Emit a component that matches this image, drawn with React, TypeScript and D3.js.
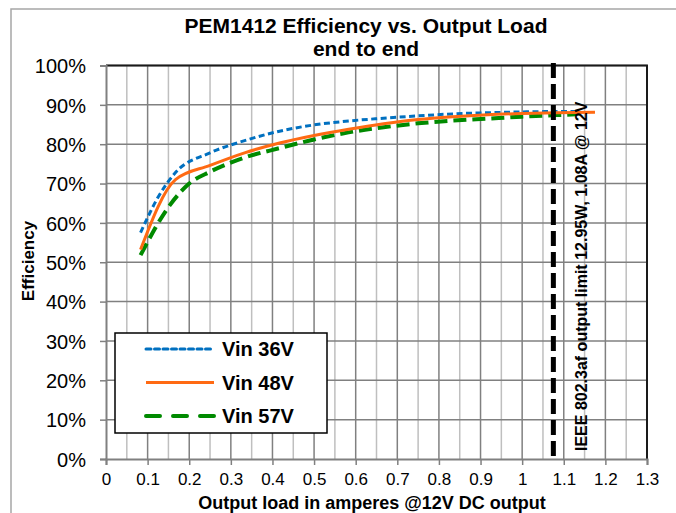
import { useEffect, useRef } from 'react';
import * as d3 from 'd3';

// measured points (load in A, efficiency in %)
const loads36 = [0.083, 0.125, 0.167, 0.25, 0.333, 0.417, 0.5, 0.583, 0.667, 0.75, 0.833, 0.917, 1.0, 1.083, 1.13];
const eff36 = [57.5, 66.5, 72.8, 77.8, 80.9, 83.3, 84.9, 85.9, 86.6, 87.2, 87.7, 88.0, 88.2, 88.3, 88.3];
const loads48 = [0.083, 0.167, 0.25, 0.333, 0.417, 0.5, 0.583, 0.667, 0.75, 0.833, 0.917, 1.0, 1.083, 1.175];
const eff48 = [53.2, 71.0, 74.6, 77.8, 80.3, 82.2, 83.8, 85.2, 86.3, 87.0, 87.5, 87.8, 88.0, 88.1];
const loads57 = [0.083, 0.15, 0.2, 0.25, 0.333, 0.417, 0.5, 0.583, 0.667, 0.75, 0.833, 0.917, 1.0, 1.083, 1.13];
const eff57 = [51.8, 64.0, 70.0, 73.0, 76.6, 79.0, 81.2, 83.0, 84.3, 85.3, 86.0, 86.5, 87.0, 87.4, 87.6];

const seriesNames = ['Vin 36V', 'Vin 48V', 'Vin 57V'];
const xTicks = [0, 0.1, 0.2, 0.3, 0.4, 0.5, 0.6, 0.7, 0.8, 0.9, 1, 1.1, 1.2, 1.3];
const yTicks = [0, 10, 20, 30, 40, 50, 60, 70, 80, 90, 100];
const limitLoad = 1.075;
const limitLabel = 'IEEE 802.3af output limit 12.95W, 1.08A @ 12V';

const FONT = '"Liberation Sans", Arial, sans-serif';

export default function App() {
  const svgRef = useRef(null);

  useEffect(() => {
    if (!svgRef.current) return;
    const width = 676;
    const height = 513;
    const svg = d3.select(svgRef.current);
    svg.selectAll('*').remove();
    svg.attr('width', width).attr('height', height);

    svg.append('rect').attr('width', width).attr('height', height).attr('fill', '#fff');

    // outer chart frame
    svg.append('rect')
      .attr('x', 11).attr('y', 9)
      .attr('width', 700).attr('height', 600)
      .attr('fill', 'none')
      .attr('stroke', '#a6a6a6')
      .attr('stroke-width', 1.5);

    const x = d3.scaleLinear().domain([0, 1.3]).range([106, 647]);
    const y = d3.scaleLinear().domain([0, 100]).range([459, 65.5]);

    const g = svg.append('g');

    // minor vertical grid
    const minor = d3.range(0.05, 1.3, 0.1);
    g.selectAll('.minor')
      .data(minor)
      .enter()
      .append('line')
      .attr('x1', d => x(d)).attr('x2', d => x(d))
      .attr('y1', y(0)).attr('y2', y(100))
      .attr('stroke', '#bfbfbf')
      .attr('stroke-width', 1.5);

    // major vertical grid
    g.selectAll('.vmajor')
      .data(xTicks.slice(1, -1))
      .enter()
      .append('line')
      .attr('x1', d => x(d)).attr('x2', d => x(d))
      .attr('y1', y(0)).attr('y2', y(100))
      .attr('stroke', '#808080')
      .attr('stroke-width', 1.5);

    // horizontal grid
    g.selectAll('.hmajor')
      .data(yTicks.slice(1))
      .enter()
      .append('line')
      .attr('x1', x(0)).attr('x2', x(1.3))
      .attr('y1', d => y(d)).attr('y2', d => y(d))
      .attr('stroke', '#808080')
      .attr('stroke-width', 1.5);

    // top/right border
    g.append('path')
      .attr('d', `M${x(0)},${y(100)}H${x(1.3)}V${y(0)}`)
      .attr('fill', 'none')
      .attr('stroke', '#1a1a1a')
      .attr('stroke-width', 2);

    // axes
    const xAxis = d3.axisBottom(x).tickValues(xTicks).tickSize(6).tickFormat(d => d3.format('')(+(+d).toFixed(1)));
    const yAxis = d3.axisLeft(y).tickValues(yTicks).tickSize(6).tickFormat(d => `${d}%`);

    const gx = svg.append('g').attr('transform', `translate(0,${y(0)})`).call(xAxis);
    gx.select('.domain').attr('stroke', '#808080').attr('stroke-width', 2);
    gx.selectAll('.tick line').attr('stroke', '#808080').attr('stroke-width', 1.5);
    gx.selectAll('.tick text')
      .attr('font-family', FONT)
      .attr('font-size', 17)
      .attr('fill', '#000')
      .attr('y', 14)
      .attr('dy', '0.71em');

    const gy = svg.append('g').attr('transform', `translate(${x(0)},0)`).call(yAxis);
    gy.select('.domain').attr('stroke', '#808080').attr('stroke-width', 2);
    gy.selectAll('.tick line').attr('stroke', '#808080').attr('stroke-width', 1.5);
    gy.selectAll('.tick text')
      .attr('font-family', FONT)
      .attr('font-size', 20)
      .attr('fill', '#000')
      .attr('x', -20)
      .attr('dy', '0.36em');

    // series
    const series = [
      { name: seriesNames[0], loads: loads36, eff: eff36, color: '#0070c0', width: 3, dash: '6,3.5' },
      { name: seriesNames[1], loads: loads48, eff: eff48, color: '#ff6a13', width: 3, dash: null },
      { name: seriesNames[2], loads: loads57, eff: eff57, color: '#008a00', width: 4, dash: '13,6' },
    ];

    const line = d3.line<[number, number]>()
      .x(d => x(d[0]))
      .y(d => y(d[1]))
      .curve(d3.curveMonotoneX);

    // draw green first, then blue, then orange on top
    [series[2], series[0], series[1]].forEach(s => {
      const pts = s.loads.map((l, i) => [l, s.eff[i]] as [number, number]);
      svg.append('path')
        .attr('d', line(pts))
        .attr('fill', 'none')
        .attr('stroke', s.color)
        .attr('stroke-width', s.width)
        .attr('stroke-linejoin', 'round')
        .attr('stroke-dasharray', s.dash);
    });

    // output limit marker
    svg.append('line')
      .attr('x1', x(limitLoad)).attr('x2', x(limitLoad))
      .attr('y1', 63).attr('y2', 461)
      .attr('stroke', '#000')
      .attr('stroke-width', 5)
      .attr('stroke-dasharray', '15,6');

    svg.append('text')
      .attr('transform', `translate(587,451) rotate(-90)`)
      .attr('font-family', FONT)
      .attr('font-size', 16)
      .attr('font-weight', 'bold')
      .attr('fill', '#000')
      .text(limitLabel);

    // legend
    const lg = svg.append('g');
    lg.append('rect')
      .attr('x', 115).attr('y', 333)
      .attr('width', 212).attr('height', 100)
      .attr('fill', '#fff')
      .attr('stroke', '#000')
      .attr('stroke-width', 1.5);

    const legendY = d3.scalePoint<string>().domain(seriesNames).range([349, 416]);
    const legendDash = ['5,3.5', null, '14,13'];
    series.forEach((s, i) => {
      const ly = legendY(s.name) as number;
      lg.append('line')
        .attr('x1', 146).attr('x2', 214)
        .attr('y1', ly).attr('y2', ly)
        .attr('stroke', s.color)
        .attr('stroke-width', s.width)
        .attr('stroke-linecap', i === 1 ? 'butt' : 'round')
        .attr('stroke-dasharray', legendDash[i]);
      lg.append('text')
        .attr('x', 222).attr('y', ly)
        .attr('dy', '0.36em')
        .attr('font-family', FONT)
        .attr('font-size', 20)
        .attr('font-weight', 'bold')
        .attr('fill', '#000')
        .text(s.name);
    });

    // titles
    svg.append('text')
      .attr('x', 366).attr('y', 33)
      .attr('text-anchor', 'middle')
      .attr('font-family', FONT)
      .attr('font-size', 21)
      .attr('font-weight', 'bold')
      .text('PEM1412 Efficiency vs. Output Load');
    svg.append('text')
      .attr('x', 366).attr('y', 56)
      .attr('text-anchor', 'middle')
      .attr('font-family', FONT)
      .attr('font-size', 21)
      .attr('font-weight', 'bold')
      .text('end to end');

    svg.append('text')
      .attr('transform', `translate(34,261) rotate(-90)`)
      .attr('text-anchor', 'middle')
      .attr('font-family', FONT)
      .attr('font-size', 17)
      .attr('font-weight', 'bold')
      .text('Efficiency');

    svg.append('text')
      .attr('x', 372).attr('y', 509)
      .attr('text-anchor', 'middle')
      .attr('font-family', FONT)
      .attr('font-size', 18)
      .attr('font-weight', 'bold')
      .text('Output load in amperes @12V DC output');
  }, []);

  return (
    <svg ref={svgRef} style={{ position: 'absolute', left: 0, top: 0, display: 'block' }} />
  );
}
